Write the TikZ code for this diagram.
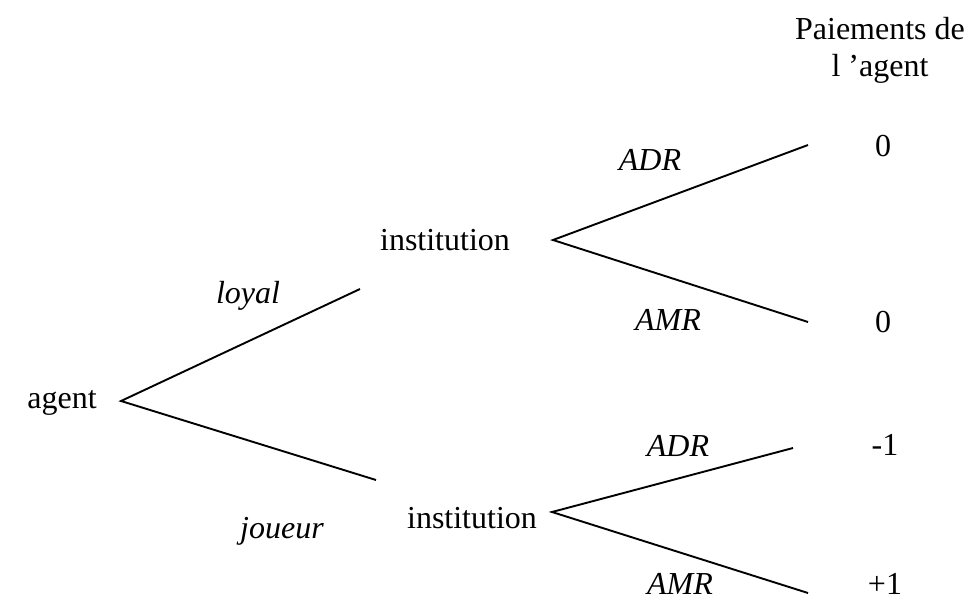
\documentclass[tikz,border=0pt]{standalone}
\usepackage{fontspec}
\setmainfont{Liberation Serif}
\begin{document}
\begin{tikzpicture}[x=1pt,y=-1pt,
  lbl/.style={inner sep=0pt,font=\fontsize{32}{37}\selectfont},
  ilbl/.style={lbl,font=\fontsize{32}{37}\selectfont\itshape},
  branch/.style={line width=1.9pt}]
\useasboundingbox (0,0) rectangle (968,601);
% vertices and ends
\coordinate (r) at (121,401);
\coordinate (l1) at (360,289);
\coordinate (j1) at (376,480);
\coordinate (u) at (553,240);
\coordinate (ua) at (808,145);
\coordinate (um) at (808,322);
\coordinate (d) at (552,512);
\coordinate (da) at (793,448);
\coordinate (dm) at (808,593);
% texts
\node[lbl] (agent) at (62,403) {agent};
\node[ilbl] (loyal) at (248,296) {loyal};
\node[ilbl] (joueur) at (282,531) {joueur};
\node[lbl] (inst1) at (445,240) {institution};
\node[lbl] (inst2) at (472,518) {institution};
\node[ilbl] (adr1) at (650,160) {ADR};
\node[ilbl] (amr1) at (668,320) {AMR};
\node[ilbl] (adr2) at (678,446) {ADR};
\node[ilbl] (amr2) at (680,584) {AMR};
\node[lbl] (p1) at (883,146) {0};
\node[lbl] (p2) at (883,322) {0};
\node[lbl] (p3) at (885,445) {-1};
\node[lbl] (p4) at (885,584) {+1};
\node[lbl,align=center] (head) at (880,50) {Paiements de\\l 'agent};
% branches
\draw[branch] (l1) -- (r) -- (j1);
\draw[branch] (ua) -- (u) -- (um);
\draw[branch] (da) -- (d) -- (dm);
\end{tikzpicture}
\end{document}
